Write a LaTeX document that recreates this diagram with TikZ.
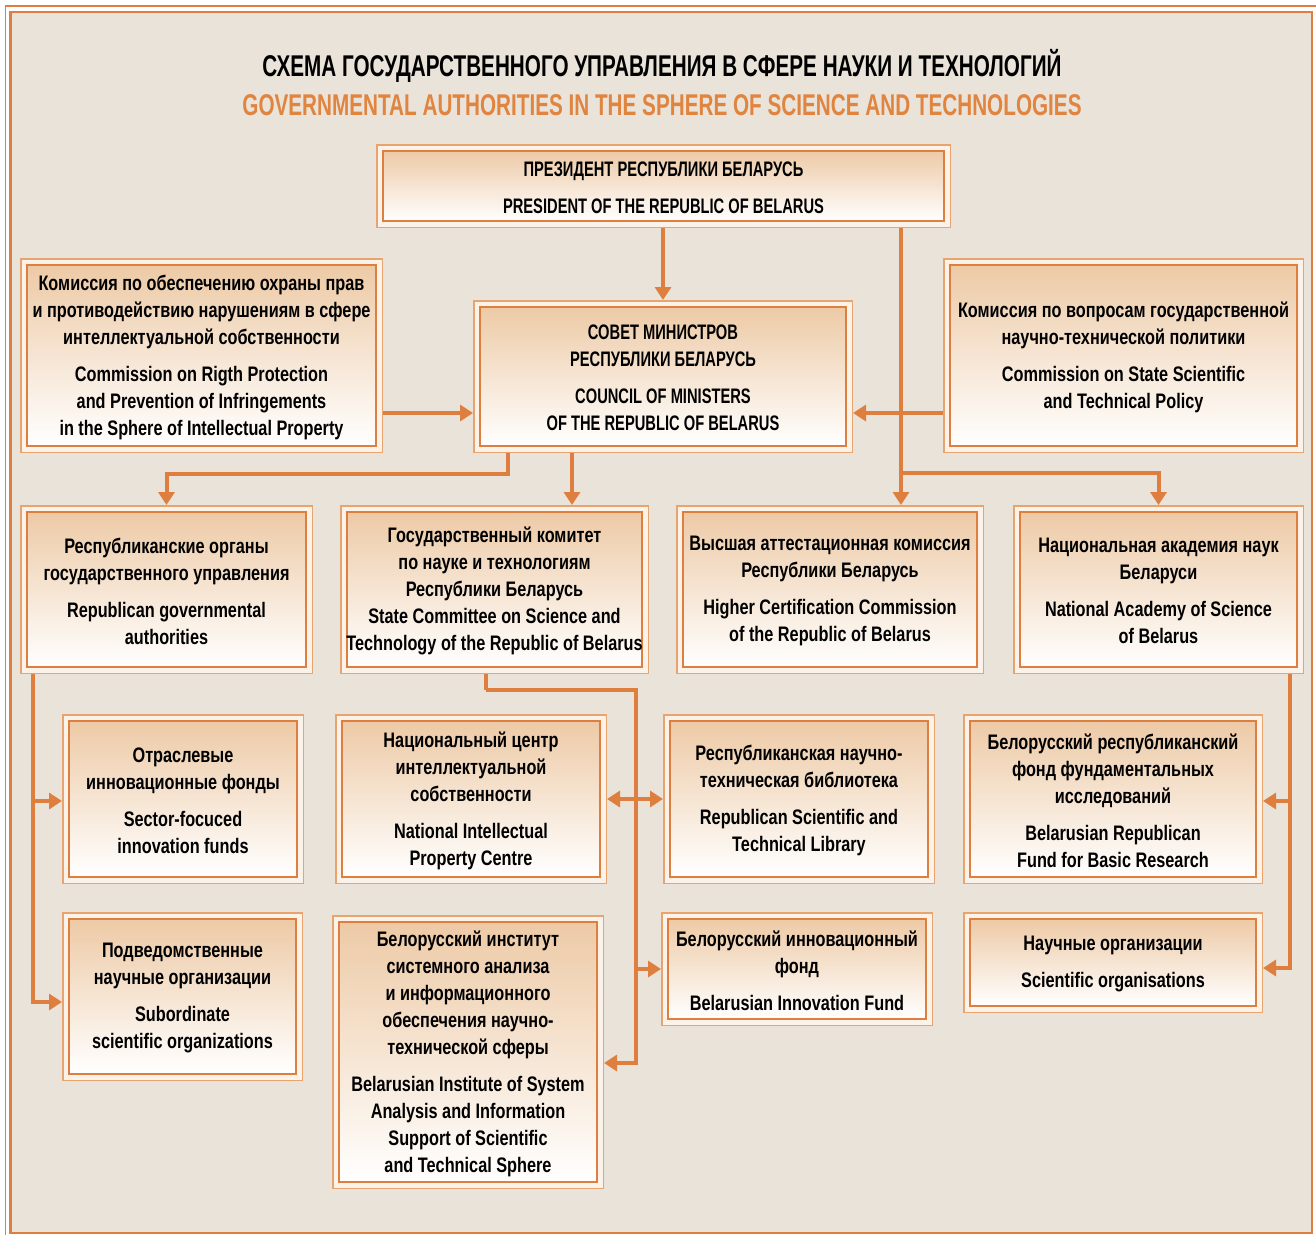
\documentclass[tikz,border=0pt]{standalone}
\usepackage{fontspec}
\setmainfont{Liberation Sans}[FakeStretch=0.775]
\newfontfamily\ttlfont{Liberation Sans}[FakeStretch=0.69]
\newfontfamily\capsfont{Liberation Sans}[FakeStretch=0.7]
\usetikzlibrary{arrows.meta}
\definecolor{bgc}{HTML}{EAE3D9}
\definecolor{ocol}{HTML}{DE7F3F}
\definecolor{olight}{HTML}{E8A46F}
\definecolor{band}{HTML}{FBF2EA}
\definecolor{peach}{HTML}{EDCAA6}
\definecolor{ttl}{HTML}{E0843F}
\tikzset{
  txt/.style={align=center,inner sep=0pt,font=\bfseries\fontsize{21}{27}\selectfont},
  ttltxt/.style={inner sep=0pt,font=\ttlfont\bfseries\fontsize{30}{34}\selectfont},
  conn/.style={draw=ocol,line width=4pt,line join=miter},
  arr/.style={conn,-{Triangle[width=16pt,length=13pt]}},
  darr/.style={conn,{Triangle[width=16pt,length=13pt]}-{Triangle[width=16pt,length=13pt]}},
  boxanchor/.style={inner sep=0pt,outer sep=0pt,rectangle}
}
\newcommand{\obox}[7][]{%
  \fill[band] (#3,#4) rectangle (#5,#6);
  \draw[olight,line width=1.5pt] (#3+0.75,#4+0.75) rectangle (#5-0.75,#6-0.75);
  \shade[top color=peach,bottom color=white] (#3+7,#4+7) rectangle (#5-7,#6-7);
  \draw[ocol,line width=1.5pt] (#3+7,#4+7) rectangle (#5-7,#6-7);
  \node[boxanchor,minimum width={#5-#3},minimum height={#6-#4}] (#2) at ({(#3+#5)/2},{(#4+#6)/2}) {};
  \node[txt,yshift=-1.5pt,#1] (#2t) at (#2.center) {#7};
}
\begin{document}
\begin{tikzpicture}[x=1pt,y=-1pt]
\useasboundingbox (0,0) rectangle (1316,1235);
\fill[white] (0,0) rectangle (1316,1235);
\fill[bgc] (10.5,12) rectangle (1312,1233);
\draw[ocol,line width=2.5pt] (10.5,12) rectangle (1312,1233);
\draw[ocol,line width=1.6pt] (5.5,1235) -- (5.5,6) -- (1316,6);

\node[ttltxt] (title1) at (662,66) {СХЕМА ГОСУДАРСТВЕННОГО УПРАВЛЕНИЯ В СФЕРЕ НАУКИ И ТЕХНОЛОГИЙ};
\node[ttltxt,text=ttl] (title2) at (662,105) {GOVERNMENTAL AUTHORITIES IN THE SPHERE OF SCIENCE AND TECHNOLOGIES};

\obox[font=\capsfont\bfseries\fontsize{21}{27}\selectfont]{pres}{376}{144}{951}{228}{ПРЕЗИДЕНТ РЕСПУБЛИКИ БЕЛАРУСЬ\\[10pt]PRESIDENT OF THE REPUBLIC OF BELARUS}
\obox{kl}{20}{258}{383}{453}{Комиссия по обеспечению охраны прав\\и противодействию нарушениям в сфере\\интеллектуальной собственности\\[10pt]Commission on Rigth Protection\\and Prevention of Infringements\\in the Sphere of Intellectual Property}
\obox[font=\capsfont\bfseries\fontsize{21}{27}\selectfont]{council}{473}{300}{853}{453}{СОВЕТ МИНИСТРОВ\\РЕСПУБЛИКИ БЕЛАРУСЬ\\[10pt]COUNCIL OF MINISTERS\\OF THE REPUBLIC OF BELARUS}
\obox{kr}{943}{258}{1304}{453}{Комиссия по вопросам государственной\\научно-технической политики\\[10pt]Commission on State Scientific\\and Technical Policy}

\obox{rep}{20}{505}{313}{674}{Республиканские органы\\государственного управления\\[10pt]Republican governmental\\authorities}
\obox{gk}{340}{505}{649}{674}{Государственный комитет\\по науке и технологиям\\Республики Беларусь\\State Committee on Science and\\Technology of the Republic of Belarus}
\obox{vak}{676}{505}{984}{674}{Высшая аттестационная комиссия\\Республики Беларусь\\[10pt]Higher Certification Commission\\of the Republic of Belarus}
\obox{nan}{1013}{505}{1304}{674}{Национальная академия наук\\Беларуси\\[10pt]National Academy of Science\\of Belarus}

\obox{sf}{62}{714}{304}{884}{Отраслевые\\инновационные фонды\\[10pt]Sector-focuced\\innovation funds}
\obox{nc}{335}{714}{607}{884}{Национальный центр\\интеллектуальной\\собственности\\[10pt]National Intellectual\\Property Centre}
\obox{lib}{663}{714}{935}{884}{Республиканская научно-\\техническая библиотека\\[10pt]Republican Scientific and\\Technical Library}
\obox{brf}{963}{714}{1263}{884}{Белорусский республиканский\\фонд фундаментальных\\исследований\\[10pt]Belarusian Republican\\Fund for Basic Research}

\obox{sub}{62}{912}{303}{1081}{Подведомственные\\научные организации\\[10pt]Subordinate\\scientific organizations}
\obox{inst}{332}{915}{604}{1189}{Белорусский институт\\системного анализа\\и информационного\\обеспечения научно-\\технической сферы\\[10pt]Belarusian Institute of System\\Analysis and Information\\Support of Scientific\\and Technical Sphere}
\obox{inf}{661}{912}{933}{1026}{Белорусский инновационный\\фонд\\[10pt]Belarusian Innovation Fund}
\obox{sci}{963}{912}{1263}{1013}{Научные организации\\[10pt]Scientific organisations}

% connectors
\draw[arr] (council.north |- pres.south) -- (council.north);
\coordinate (j1) at (901,473);
\draw[conn] (j1 |- pres.south) -- (j1);
\draw[arr] (j1) -- (j1 |- vak.north);
\draw[arr] (j1) -| (nan.north);
\draw[arr] (kr.west |- 0,413) -- (council.east |- 0,413);
\draw[arr] (kl.east |- 0,413) -- (council.west |- 0,413);
\coordinate (j2) at (508,474);
\draw[arr] (j2 |- council.south) -- (j2) -| (rep.north);
\coordinate (j3) at (572,0);
\draw[arr] (j3 |- council.south) -- (j3 |- gk.north);

\coordinate (j4) at (33,801);
\draw[arr] (j4 |- rep.south) |- (sub.west |- 0,1002);
\draw[arr] (j4) -- (sf.west |- j4);

\coordinate (j5) at (636,690);
\draw[arr] (j5 -| 486,0) -- (j5) |- (inst.east |- 0,1063);
\draw[conn] (486,0 |- gk.south) -- (j5 -| 486,0);
\draw[arr] (j5 |- inf.west) -- (inf.west);
\draw[darr] (nc.east) -- (lib.west);

\coordinate (j6) at (1290,801);
\draw[arr] (j6 |- nan.south) |- (sci.east |- 0,968);
\draw[arr] (j6) -- (brf.east |- j6);
\end{tikzpicture}
\end{document}
